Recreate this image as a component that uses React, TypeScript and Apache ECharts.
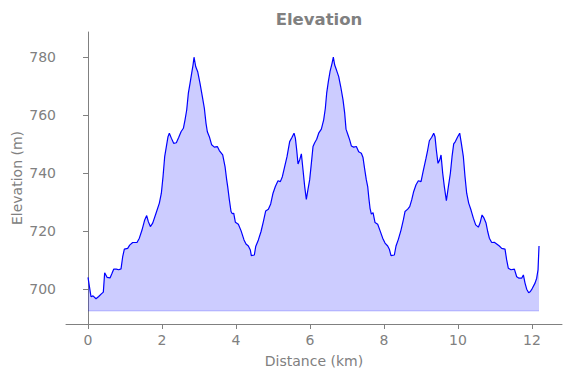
import React, { useEffect, useRef } from "react";
import * as echarts from "echarts";

const distanceKm = [
  0, 0.081, 0.135, 0.216, 0.288, 0.36, 0.414, 0.45, 0.514, 0.595, 0.649, 0.694, 0.766, 0.829, 0.892, 0.937, 0.982,
  1.072, 1.126, 1.207, 1.324, 1.387, 1.459, 1.532, 1.586, 1.63, 1.685, 1.748, 1.838, 1.928, 1.982, 2.027, 2.072,
  2.117, 2.162, 2.198, 2.252, 2.315, 2.387, 2.45, 2.514, 2.577, 2.622, 2.667, 2.712, 2.757, 2.802, 2.838, 2.865,
  2.91, 2.964, 3.027, 3.09, 3.144, 3.189, 3.225, 3.279, 3.342, 3.414, 3.495, 3.549, 3.64, 3.703, 3.748, 3.775,
  3.82, 3.865, 3.9, 3.937, 3.982, 4.063, 4.135, 4.216, 4.27, 4.333, 4.387, 4.414, 4.495, 4.532, 4.604, 4.676,
  4.739, 4.802, 4.874, 4.937, 5.0, 5.063, 5.135, 5.198, 5.252, 5.315, 5.378, 5.45, 5.514, 5.568, 5.604, 5.64,
  5.676, 5.72, 5.766, 5.811, 5.856, 5.9, 5.946, 5.99, 6.036, 6.081, 6.126, 6.18, 6.234, 6.306, 6.369, 6.414, 6.45,
  6.495, 6.54, 6.595, 6.63, 6.667, 6.72, 6.775, 6.829, 6.892, 6.937, 6.973, 7.027, 7.072, 7.117, 7.18, 7.252,
  7.315, 7.387, 7.432, 7.477, 7.522, 7.559, 7.59, 7.622, 7.658, 7.703, 7.757, 7.829, 7.892, 7.964, 8.027, 8.099,
  8.144, 8.189, 8.279, 8.324, 8.387, 8.459, 8.522, 8.568, 8.64, 8.694, 8.748, 8.802, 8.865, 8.928, 9.0, 9.054,
  9.135, 9.18, 9.225, 9.289, 9.343, 9.378, 9.414, 9.459, 9.505, 9.541, 9.586, 9.63, 9.685, 9.739, 9.793, 9.838,
  9.883, 9.928, 9.991, 10.045, 10.09, 10.144, 10.189, 10.234, 10.288, 10.351, 10.414, 10.477, 10.549, 10.595,
  10.649, 10.703, 10.757, 10.802, 10.847, 10.91, 10.98, 11.045, 11.117, 11.18, 11.27, 11.315, 11.36, 11.432,
  11.523, 11.586, 11.649, 11.72, 11.766, 11.811, 11.856, 11.91, 11.955, 12.009, 12.081, 12.126, 12.162, 12.189,
];

const elevationM = [
  704.0, 697.3, 697.6, 696.6, 697.4, 698.3, 698.9, 705.6, 704.0, 703.8, 705.4, 706.8, 706.8, 706.6, 706.9, 711.1, 713.7,
  714.0, 715.1, 716.0, 716.0, 717.5, 720.3, 723.8, 725.3, 723.2, 721.5, 722.7, 726.1, 729.6, 733.0, 738.7, 745.6,
  749.1, 752.5, 753.7, 752.0, 750.2, 750.4, 752.2, 754.2, 755.4, 758.3, 761.7, 767.5, 770.9, 774.4, 777.2, 779.9,
  776.7, 774.9, 770.9, 766.3, 762.3, 757.1, 754.2, 752.5, 749.7, 748.9, 749.1, 747.7, 746.2, 742.2, 737.6, 735.3,
  730.7, 726.7, 725.9, 726.1, 723.0, 722.3, 720.1, 716.9, 715.5, 714.8, 713.4, 711.5, 711.7, 714.6, 716.9, 719.8,
  723.2, 726.9, 727.5, 729.3, 733.0, 735.3, 737.3, 737.0, 738.7, 742.2, 745.6, 750.8, 752.3, 753.7, 752.0, 747.9,
  743.1, 744.5, 746.6, 741.0, 735.3, 730.9, 734.4, 737.6, 743.3, 749.1, 750.4, 751.6, 753.7, 755.1, 758.3, 762.3, 767.5,
  771.5, 774.9, 777.8, 779.9, 777.2, 775.3, 773.2, 769.8, 765.2, 760.6, 755.1, 753.1, 751.4, 749.3, 748.9, 749.1,
  747.3, 746.8, 745.3, 741.3, 737.6, 735.3, 731.3, 727.8, 725.8, 726.3, 722.9, 722.3, 720.1, 717.5, 715.8, 714.8,
  713.7, 711.5, 711.7, 714.8, 717.1, 720.3, 723.8, 726.7, 727.5, 728.4, 730.7, 733.6, 735.9, 737.3, 737.0, 740.4,
  745.1, 747.9, 751.1, 752.3, 753.7, 752.5, 747.9, 743.3, 744.5, 746.2, 739.9, 735.3, 730.4, 735.3, 739.9, 745.6,
  750.0, 750.8, 752.5, 753.7, 750.2, 745.6, 738.7, 733.0, 729.6, 727.2, 724.4, 722.1, 721.3, 722.7,
  725.5, 724.4, 722.7, 719.8, 717.5, 716.0, 716.1, 715.5, 714.8, 714.0, 713.7, 710.0, 707.1, 706.6,
  706.8, 704.2, 703.7, 703.7, 704.8, 702.0, 699.9, 698.7, 699.1, 700.2, 702.0, 703.7, 706.6, 714.8,
];

const xTicks = [0, 2, 4, 6, 8, 10, 12];
const yTicks = [700, 720, 740, 760, 780];
const fillBase = 692.4;

const GRAY = "#808080";
const FONT = "DejaVu Sans";

export default function App() {
  const ref = useRef<HTMLDivElement>(null);
  useEffect(() => {
    if (!ref.current) return;
    const chart = echarts.init(ref.current, undefined, { renderer: "svg" });
    const profile = distanceKm.map((d, i) => [d, elevationM[i]]);
    const baseLine = [
      [distanceKm[0], fillBase],
      [distanceKm[distanceKm.length - 1], fillBase],
    ];
    chart.setOption({
      animation: false,
      title: {
        text: "Elevation",
        left: 314,
        top: 6,
        textAlign: "center",
        textStyle: { color: GRAY, fontSize: 16.5, fontWeight: "bold", fontFamily: FONT },
      },
      grid: { left: 66, right: 9, top: 32, bottom: 54, containLabel: false, outerBoundsMode: "none" },
      xAxis: {
        type: "value",
        min: -0.595,
        max: 12.81,
        name: "Distance (km)",
        nameLocation: "middle",
        nameGap: 30,
        nameMoveOverlap: false,
        nameTextStyle: { color: GRAY, fontSize: 14, fontFamily: FONT },
        axisLine: { show: true, lineStyle: { color: GRAY, width: 1 } },
        axisTick: { show: true, customValues: xTicks, length: 5, lineStyle: { color: GRAY } },
        axisLabel: { customValues: xTicks, color: GRAY, fontSize: 14, fontFamily: FONT, margin: 9 },
        splitLine: { show: false },
      },
      yAxis: {
        type: "value",
        min: 687.9,
        max: 788.6,
        name: "Elevation (m)",
        nameLocation: "middle",
        nameGap: 42,
        nameMoveOverlap: false,
        nameTextStyle: { color: GRAY, fontSize: 14, fontFamily: FONT },
        axisLine: { show: true, lineStyle: { color: GRAY, width: 1 } },
        axisTick: { show: true, customValues: yTicks, length: 5, lineStyle: { color: GRAY } },
        axisLabel: { customValues: yTicks, color: GRAY, fontSize: 14, fontFamily: FONT, margin: 10 },
        splitLine: { show: false },
      },
      series: [
        {
          type: "line",
          data: baseLine,
          showSymbol: false,
          silent: true,
          lineStyle: { color: "rgba(0,0,255,0.2)", width: 1 },
        },
        {
          type: "line",
          data: profile,
          showSymbol: false,
          lineStyle: { color: "#0000ff", width: 1.2 },
          areaStyle: { color: "rgba(0,0,255,0.2)", origin: fillBase, opacity: 1 },
        },
      ],
    });
    return () => chart.dispose();
  }, []);
  return (
    <div
      ref={ref}
      style={{ position: "fixed", left: 0, top: 0, width: 571, height: 378, background: "#ffffff" }}
    />
  );
}
